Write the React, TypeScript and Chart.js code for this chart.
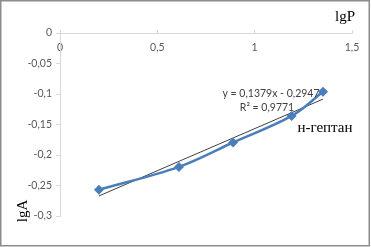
import React, { useEffect, useRef } from "react";
import { Chart, registerables } from "chart.js";

Chart.register(...registerables);

const lgP = [0.2, 0.611, 0.889, 1.19, 1.351];
const lgA = [-0.257, -0.2195, -0.1795, -0.136, -0.0965];
const trendSlope = 0.1379;
const trendIntercept = -0.2947;
const xTicks = [0, 0.5, 1, 1.5];
const equationText = "y = 0,1379x - 0,2947";
const r2Text = "R² = 0,9771";
const seriesName = "н-гептан";
const xTitle = "lgP";
const yTitle = "lgA";

const fmt = (v: number) => String(Math.round(v * 100) / 100).replace(".", ",");

export default function App() {
  const ref = useRef<HTMLCanvasElement>(null);
  useEffect(() => {
    document.body.style.margin = "0";
    const trendData = [lgP[0], lgP[lgP.length - 1]].map((x) => ({ x, y: trendSlope * x + trendIntercept }));
    const overlay = {
      id: "overlay",
      afterDraw(chart: any) {
        const ctx = chart.ctx;
        ctx.save();
        ctx.strokeStyle = "#8c8c8c";
        ctx.lineWidth = 1.5;
        ctx.strokeRect(0.75, 0.75, 368.5, 245);
        ctx.fillStyle = "#404040";
        ctx.font = "10.5px Lato";
        ctx.textAlign = "center";
        ctx.textBaseline = "middle";
        ctx.fillText(equationText, 271, 94);
        ctx.fillText(r2Text, 267, 108);
        ctx.fillStyle = "#000";
        ctx.font = "15px 'Liberation Serif'";
        ctx.fillText(seriesName, 325, 128);
        ctx.fillText(xTitle, 345, 17);
        ctx.translate(23, 211);
        ctx.rotate(-Math.PI / 2);
        ctx.fillText(yTitle, 0, 0);
        ctx.restore();
      },
    };
    const chart = new Chart(ref.current!, {
      type: "scatter",
      data: {
        datasets: [
          {
            data: trendData,
            showLine: true,
            borderColor: "#404040",
            borderWidth: 1,
            pointRadius: 0,
            order: 2,
          },
          {
            data: lgP.map((x, i) => ({ x, y: lgA[i] })),
            showLine: true,
            tension: 0.35,
            borderColor: "#4A7EBB",
            backgroundColor: "#4A7EBB",
            borderWidth: 2.5,
            pointStyle: "rectRot",
            pointRadius: 5,
            pointBorderWidth: 0,
            order: 1,
          },
        ],
      },
      options: {
        animation: false,
        responsive: false,
        layout: { padding: { left: 0, top: 0, right: 19, bottom: 31 } },
        plugins: { legend: { display: false }, tooltip: { enabled: false } },
        scales: {
          x: {
            position: "top",
            min: 0,
            max: 1.5,
            afterFit: (s: any) => {
              s.height = 33;
            },
            afterBuildTicks: (s: any) => {
              s.ticks = xTicks.map((v) => ({ value: v }));
            },
            grid: { drawOnChartArea: false, drawTicks: true, tickLength: 3, color: "#d9d9d9" },
            border: { color: "#d9d9d9", width: 1 },
            ticks: {
              mirror: true,
              padding: 8,
              maxRotation: 0,
              color: "#595959",
              font: { family: "Lato", size: 10.5 },
              callback: (v: any) => fmt(Number(v)),
            },
          },
          y: {
            min: -0.3,
            max: 0,
            afterFit: (s: any) => {
              s.width = 60;
            },
            grid: { drawOnChartArea: false, drawTicks: true, tickLength: 4, color: "#d9d9d9" },
            border: { color: "#d9d9d9", width: 1 },
            ticks: {
              stepSize: 0.05,
              padding: 4,
              color: "#595959",
              font: { family: "Lato", size: 10.5 },
              callback: (v: any) => fmt(Number(v)),
            },
          },
        },
      },
      plugins: [overlay],
    });
    return () => chart.destroy();
  }, []);
  return (
    <div style={{ position: "fixed", left: 0, top: 0, width: 371, height: 247, background: "#fff" }}>
      <canvas ref={ref} width={371} height={247} style={{ display: "block" }} />
    </div>
  );
}
